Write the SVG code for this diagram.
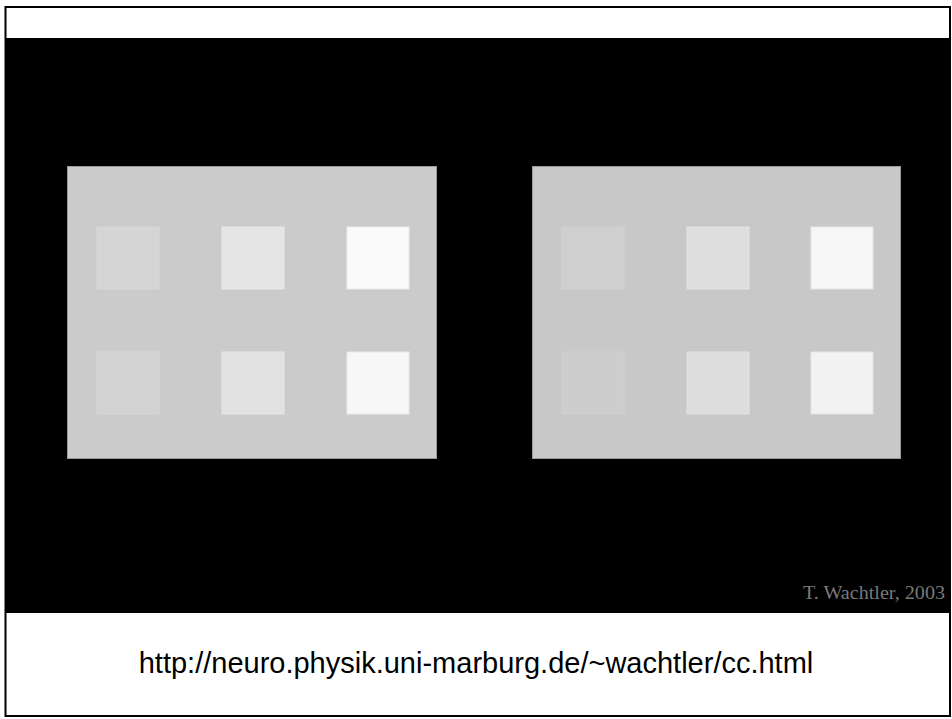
<svg xmlns="http://www.w3.org/2000/svg" width="952" height="719" viewBox="0 0 952 719">
<style>
.panel{stroke:#9a9a9a;stroke-width:1}
.sq{stroke-width:1}
.url{font-family:"Liberation Sans",Arial,sans-serif;font-size:29px;fill:#000;text-anchor:middle}
.credit{font-family:"Liberation Serif","Times New Roman",serif;font-size:18px;fill:#7a7a7a}
</style>
<rect x="0" y="0" width="952" height="719" fill="#fff"/>
<rect id="frame" x="5.5" y="7" width="944.5" height="709" fill="#fff" stroke="#000" stroke-width="2"/>
<rect id="background" x="5" y="38" width="945" height="575" fill="#000"/>
<g id="left-panel">
  <rect class="panel" x="67.5" y="166.5" width="369" height="292" fill="#cbcbcb"/>
  <rect class="sq" x="97" y="227" width="62" height="62" fill="#d5d5d5" stroke="#d8d8d8"/>
  <rect class="sq" x="222" y="227" width="62" height="62" fill="#e5e5e5" stroke="#e8e8e8"/>
  <rect class="sq" x="347" y="227" width="62" height="62" fill="#fafafa" stroke="#ececec"/>
  <rect class="sq" x="97" y="352" width="62" height="62" fill="#d3d3d3" stroke="#d6d6d6"/>
  <rect class="sq" x="222" y="352" width="62" height="62" fill="#e1e1e1" stroke="#e6e6e6"/>
  <rect class="sq" x="347" y="352" width="62" height="62" fill="#f7f7f7" stroke="#e9e9e9"/>
</g>
<g id="right-panel">
  <rect class="panel" x="532.5" y="166.5" width="368" height="292" fill="#c8c8c8"/>
  <rect class="sq" x="562" y="227" width="62" height="62" fill="#cfcfcf" stroke="#d2d2d2"/>
  <rect class="sq" x="687" y="227" width="62" height="62" fill="#dfdfdf" stroke="#e3e3e3"/>
  <rect class="sq" x="811" y="227" width="62" height="62" fill="#f6f6f6" stroke="#e6e6e6"/>
  <rect class="sq" x="562" y="352" width="62" height="62" fill="#cdcdcd" stroke="#d0d0d0"/>
  <rect class="sq" x="687" y="352" width="62" height="62" fill="#dddddd" stroke="#e1e1e1"/>
  <rect class="sq" x="811" y="352" width="62" height="62" fill="#f2f2f2" stroke="#e4e4e4"/>
</g>
<g id="credit">
  <text class="credit" x="803" y="599" textLength="142" lengthAdjust="spacingAndGlyphs">T. Wachtler, 2003</text>
</g>
<g id="url">
  <text class="url" x="476" y="673">http://neuro.physik.uni-marburg.de/~wachtler/cc.html</text>
</g>
<g id="connectors"/>
</svg>
